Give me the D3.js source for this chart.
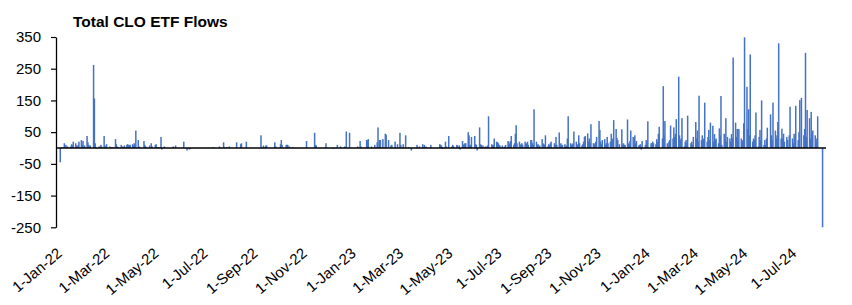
<!DOCTYPE html>
<html>
<head>
<meta charset="utf-8">
<script src="https://cdn.jsdelivr.net/npm/d3@7"></script>
<style>
  body { margin: 0; background: #fff; }
  svg { display: block; font-family: Arial, "Liberation Sans", sans-serif; }
</style>
</head>
<body>
<div id="chart"></div>
<script>
// daily flows ($mn), one inner array per month, one value per weekday
const flows2022 = [
  [0, 0, -45, 0, 3, 15, 5, 10, 3, 5, 0, 5, 12, 8, 20, 15, 8, 5, 10, 20, 25],
  [10, 22, 5, 8, 38, 18, 10, 5, 8, 0, 262, 156, 15, 3, 0, 5, 3, 10, 5, 38],
  [8, 3, 12, 0, 5, 0, 3, 0, 3, 28, 12, 5, 3, 0, 10, 3, 5, 3, 8, 10, 12, 8, 10],
  [10, 12, 8, 15, 10, 55, 25, 5, 3, 0, 0, 22, 10, 5, 3, 0, 8, 3, 15, 5, 0],
  [10, 12, 3, 0, 3, 35, -5, 0, 0, 5, 0, 0, 0, 0, 0, 0, 5, 0, 0, 8, 0, 0],
  [0, 0, 0, 20, 0, 0, 0, -8, -5, -3, 0, 0, 0, 0, 0, 0, 0, 0, 0, 0, 0, 0],
  [0, 0, 0, 0, 0, 0, 0, 3, 0, 0, 0, 0, 0, 5, 0, 0, 18, 3, 0, 0, 3],
  [5, 0, 0, 0, 0, 0, 0, 18, 0, 0, 12, 15, 0, 0, 0, 20, 0, 0, 0, 0, 0, 0, 0],
  [0, 0, 0, 0, 0, 0, 40, 8, 3, 0, 8, 8, 0, 0, 0, 0, 0, 18, 5, 0, 0, 0],
  [12, 25, 10, 0, 0, 10, 10, 10, 0, 5, 0, 3, 0, 0, 0, 0, 0, 0, 0, 0, 0],
  [0, 0, 0, 22, 0, 0, 0, 0, 0, 48, 10, 8, 0, 0, 0, 0, 0, 0, 0, 15, 0, 0],
  [0, 0, 0, 0, -3, 0, 0, 10, 0, 0, 0, 5, 0, 0, 5, 0, 52, 0, 48, 0, 0, 0]
];
const flows2023 = [
  [0, 0, 0, 0, 5, 22, 5, 0, 0, 0, 0, 25, 25, 28, 0, 5, 0, 0, 0, 10, 18, 65],
  [0, 25, 25, 28, 0, 0, 45, 42, 25, 0, 0, 8, 10, 0, 20, 0, 0, 12, 48, 10],
  [0, 0, 12, 40, 0, 0, 0, 3, -8, 0, 0, 0, 0, 10, 0, 0, 5, 0, 12, 0, 10, 0, 5],
  [0, 0, 0, 10, 0, 0, 0, 0, 0, 0, 12, 10, 8, 3, -3, 20, 5, 0, 0, 38],
  [0, 5, 10, 5, 0, 10, 8, 0, 8, -5, 22, 10, 12, 15, 15, 50, 40, 8, 10, 35, 0, 38, 12],
  [10, -8, 65, 12, 10, 5, 8, 5, 3, 5, 8, 100, 0, 12, 8, 10, 30, 20, 18, 15, 10, 8],
  [8, 0, 3, 5, 10, 22, 18, 12, 22, 38, 10, 15, 45, 72, 15, 20, 10, 12, 15, 10, 20],
  [12, 15, 20, 10, 25, 25, 15, 10, 122, 20, 10, 12, 5, 8, 28, 15, 12, 10, 40, 5, 12, 8, 15],
  [20, 0, 15, 10, 35, 10, 49, 12, 15, 8, 10, 12, 5, 8, 30, 100, 15, 10, 12, 15, 52],
  [20, 10, 12, 40, 15, 8, 12, 20, 35, 38, 46, 20, 30, 15, 75, 15, 10, 15, 20, 35, 85, 57],
  [20, 12, 25, 28, 10, 15, 35, 15, 20, 45, 25, 30, 88, 60, 32, 25, 0, 12, 59, 10, 15, 10],
  [10, 90, 15, 12, 22, 55, 35, 30, 40, 15, 22, 8, 10, 12, -5, 22, 0, 10, 25, 15, 84]
];
const flows2024 = [
  [0, 15, 15, 20, 15, 12, 28, 20, 45, 67, 0, 30, 195, 40, 85, 15, 5, 20, 25, 71, 30, 65, 35],
  [45, 91, 225, 40, 25, 30, 94, 5, 20, 25, 15, 102, 0, 15, 20, 10, 35, 82, 30, 55, 20],
  [165, 25, 40, 25, 30, 143, 20, 35, 57, 25, 80, 70, 20, 44, 25, 30, 15, 62, 40, 164, 10],
  [45, 25, 94, 20, 35, 30, 20, 44, 30, 285, 80, 35, 60, 25, 60, 30, 20, 25, 78, 349, 193, 60],
  [122, 40, 295, 20, 30, 25, 40, 112, 5, 35, 57, 25, 150, 10, 25, 10, 30, 64, 0, 106, 40, 25, 143],
  [55, 30, 40, 82, 330, 30, 61, 30, 45, 20, 35, 25, 0, 40, 130, 30, 15, 45, 30, 133],
  [25, 50, 151, 0, 158, 40, 60, 300, 35, 120, 94, 30, 114, 45, 55, 40, 20, 30, 100, 0, 0, 0, -250]
];
const years = [2022, 2023, 2024];
const yTicks = [-250, -150, -50, 50, 150, 250, 350];
const xTickLabels = [
  "1-Jan-22", "1-Mar-22", "1-May-22", "1-Jul-22", "1-Sep-22", "1-Nov-22",
  "1-Jan-23", "1-Mar-23", "1-May-23", "1-Jul-23", "1-Sep-23", "1-Nov-23",
  "1-Jan-24", "1-Mar-24", "1-May-24", "1-Jul-24"
];

const width = 852;
const height = 305;
const barColor = "#4472C4";

// turn the month arrays into dated points (weekdays only)
const data = [];
[flows2022, flows2023, flows2024].forEach((yearFlows, yi) => {
  yearFlows.forEach((vals, m) => {
    const days = d3.timeDay.range(new Date(years[yi], m, 1), new Date(years[yi], m + 1, 1))
      .filter((d) => d.getDay() !== 0 && d.getDay() !== 6);
    days.forEach((d, i) => data.push({ date: d, value: vals[i] || 0 }));
  });
});

const xScale = d3.scaleTime()
  .domain([new Date(2022, 0, 1), new Date(2024, 7, 3)])
  .range([57, 825]);
// the category labels sit slightly off the bar positions in the original
const labelScale = d3.scaleTime()
  .domain([new Date(2022, 0, 1), new Date(2024, 6, 1)])
  .range([63, 797.5]);
const yScale = d3.scaleLinear().domain([-250, 350]).range([227.3, 37]);

const svg = d3.select("#chart")
  .append("svg")
  .attr("width", width)
  .attr("height", height);

svg.append("text")
  .attr("x", 73)
  .attr("y", 27)
  .attr("font-size", 15.5)
  .attr("font-weight", "bold")
  .attr("fill", "#000")
  .text("Total CLO ETF Flows");

svg.append("g")
  .selectAll("rect")
  .data(data.filter((d) => d.value !== 0))
  .enter()
  .append("rect")
  .attr("x", (d) => xScale(d.date) - 0.75)
  .attr("width", 1.5)
  .attr("y", (d) => yScale(Math.max(0, d.value)))
  .attr("height", (d) => Math.abs(yScale(d.value) - yScale(0)))
  .attr("fill", barColor);

// y axis
const yAxis = svg.append("g")
  .attr("transform", "translate(56,0)")
  .call(d3.axisLeft(yScale)
    .tickValues(yTicks)
    .tickFormat((d) => String(d))
    .tickSize(5)
    .tickSizeOuter(0)
    .tickPadding(10));
yAxis.select(".domain").attr("stroke", "#000").attr("stroke-width", 1.3);
yAxis.selectAll(".tick line").attr("stroke", "#000").attr("stroke-width", 1.2);
yAxis.selectAll(".tick text")
  .attr("font-size", 15)
  .attr("font-family", "Arial, 'Liberation Sans', sans-serif")
  .attr("fill", "#000");

// zero line
svg.append("line")
  .attr("x1", 56)
  .attr("x2", 826)
  .attr("y1", yScale(0))
  .attr("y2", yScale(0))
  .attr("stroke", "#000")
  .attr("stroke-width", 1.4);

// rotated date labels
const parseLabel = d3.timeParse("%d-%b-%y");
svg.append("g")
  .selectAll("text")
  .data(xTickLabels)
  .enter()
  .append("text")
  .attr("transform", (d) => `translate(${labelScale(parseLabel(d))},255) rotate(-40)`)
  .attr("text-anchor", "end")
  .attr("font-size", 15)
  .attr("fill", "#000")
  .text((d) => d);
</script>
</body>
</html>
